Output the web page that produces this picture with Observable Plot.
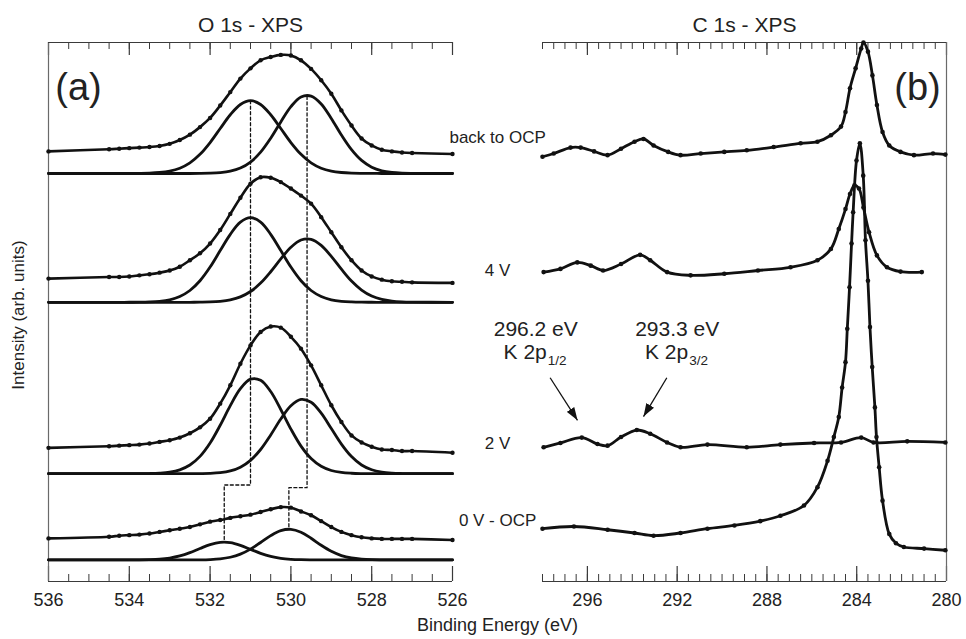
<!DOCTYPE html>
<html>
<head>
<meta charset="utf-8">
<script src="https://cdn.jsdelivr.net/npm/d3@7"></script>
<script src="https://cdn.jsdelivr.net/npm/@observablehq/plot@0.6"></script>
<style>
  html, body { margin: 0; padding: 0; background: #fff; }
  #chart { position: relative; width: 966px; height: 639px; overflow: hidden; background: #fff; }
  #chart > svg { position: absolute; left: 0; top: 0; overflow: visible; }
</style>
</head>
<body>
<div id="chart"></div>
<script>
// ================= DATA =================
// Common intensity scale (arbitrary units)
const yDomain = [0, 100];

// ---- Panel (a): O 1s XPS ----
const oEnergy = [536, 534.5, 534.25, 534, 533.75, 533.5, 533.25, 533, 532.75, 532.5, 532.25, 532,
  531.75, 531.5, 531.25, 531, 530.75, 530.5, 530.25, 530, 529.75, 529.5, 529.25, 529, 528.75,
  528.5, 528.25, 528, 527.75, 527.5, 527.25, 527, 526];
const oSeries = ["back to OCP", "4 V", "2 V", "0 V - OCP"];
const oBaseline = [75.7, 51.8, 20.0, 4.0];   // vertical stacking offsets

// measured spectra (intensity above the fit baseline)
const oDataBack = [4.1, 4.5, 4.6, 4.7, 4.8, 4.9, 5.1, 5.5, 6.2, 7.2, 8.6, 10.3, 12.6, 15.1, 17.6, 19.5, 21.0, 21.6, 22.0, 21.9, 21.0, 19.4, 17.3, 14.8, 11.7, 8.9, 6.5, 5.2, 4.4, 4.1, 3.9, 3.8, 3.6];
const oData4V   = [4.4, 4.7, 4.7, 4.8, 5.0, 5.2, 5.5, 5.9, 6.6, 7.8, 9.1, 10.9, 13.4, 16.4, 19.4, 22.0, 23.2, 23.1, 22.3, 21.1, 19.8, 18.3, 15.8, 13.0, 10.2, 7.8, 5.9, 4.8, 4.2, 3.9, 3.8, 3.7, 3.6];
const oData2V   = [4.8, 5.1, 5.2, 5.3, 5.4, 5.6, 5.9, 6.2, 6.7, 7.5, 8.6, 10.2, 13.0, 16.4, 20.4, 23.8, 26.3, 27.3, 27.1, 25.4, 23.2, 20.1, 16.4, 12.7, 9.6, 7.1, 5.8, 5.0, 4.5, 4.4, 4.2, 4.2, 3.9];
const oData0V   = [4.0, 4.3, 4.5, 4.6, 4.7, 4.9, 5.2, 5.5, 5.8, 6.1, 6.6, 7.1, 7.4, 7.8, 8.1, 8.4, 8.9, 9.4, 9.8, 9.7, 9.0, 8.3, 7.2, 6.1, 5.2, 4.6, 4.2, 4.0, 3.9, 3.9, 3.9, 3.9, 3.7];

// fitted components (intensity above the fit baseline)
const oFitBack1 = [0, 0, 0, 0.01, 0.02, 0.06, 0.18, 0.44, 0.98, 1.97, 3.55, 5.74, 8.34, 10.9, 12.8, 13.5, 12.8, 10.9, 8.34, 5.74, 3.55, 1.97, 0.98, 0.44, 0.18, 0.06, 0.02, 0.01, 0, 0, 0, 0, 0];
const oFitBack2 = [0, 0, 0, 0, 0, 0, 0, 0, 0, 0, 0.01, 0.05, 0.16, 0.42, 1.0, 2.11, 3.95, 6.54, 9.57, 12.4, 14.2, 14.36, 12.9, 10.2, 7.13, 4.42, 2.42, 1.17, 0.5, 0.19, 0.06, 0.02, 0];
const oFit4V1   = [0, 0, 0, 0.01, 0.02, 0.07, 0.19, 0.47, 1.08, 2.19, 4.0, 6.54, 9.59, 12.61, 14.87, 15.7, 14.87, 12.61, 9.59, 6.54, 4.0, 2.19, 1.08, 0.47, 0.19, 0.07, 0.02, 0.01, 0, 0, 0, 0, 0];
const oFit4V2   = [0, 0, 0, 0, 0, 0, 0, 0, 0, 0, 0.02, 0.06, 0.18, 0.45, 1.0, 2.0, 3.56, 5.67, 8.05, 10.21, 11.56, 11.69, 10.56, 8.52, 6.14, 3.94, 2.27, 1.16, 0.53, 0.22, 0.08, 0.03, 0];
const oFit2V1   = [0, 0, 0, 0, 0.01, 0.03, 0.1, 0.28, 0.72, 1.61, 3.21, 5.69, 8.99, 12.63, 15.78, 17.54, 17.33, 15.24, 11.91, 8.28, 5.12, 2.82, 1.38, 0.6, 0.23, 0.08, 0.02, 0, 0, 0, 0, 0, 0];
const oFit2V2   = [0, 0, 0, 0, 0, 0, 0, 0, 0, 0, 0.02, 0.06, 0.19, 0.51, 1.2, 2.47, 4.49, 7.19, 10.14, 12.59, 13.77, 13.25, 11.23, 8.38, 5.5, 3.18, 1.62, 0.73, 0.29, 0.1, 0.03, 0.01, 0];
const oFit0V1   = [0, 0, 0, 0, 0.01, 0.05, 0.14, 0.35, 0.74, 1.35, 2.12, 2.84, 3.26, 3.21, 2.71, 1.96, 1.22, 0.65, 0.3, 0.12, 0.04, 0.01, 0, 0, 0, 0, 0, 0, 0, 0, 0, 0, 0];
const oFit0V2   = [0, 0, 0, 0, 0, 0, 0, 0, 0, 0.01, 0.02, 0.07, 0.2, 0.5, 1.08, 2.01, 3.24, 4.51, 5.44, 5.68, 5.14, 4.02, 2.72, 1.6, 0.81, 0.36, 0.14, 0.04, 0.01, 0, 0, 0, 0];

// dashed peak-position guides
const guide1E = [531.0, 531.0, 531.65, 531.65];
const guide1I = [89.2, 17.9, 17.9, 7.3];
const guide2E = [529.6, 529.6, 530.05, 530.05];
const guide2I = [90.0, 17.4, 17.4, 9.7];

const oMajorTicks = [536, 534, 532, 530, 528, 526];

// ---- Panel (b): C 1s XPS ----
const cBackE = [298.0, 297.5, 296.75, 296.3, 295.7, 295.1, 294.5, 293.9, 293.5, 293.05, 292.4, 291.85, 290.95, 289.9, 288.9, 287.7, 286.5, 285.75, 285.15, 284.7, 284.5, 284.3, 284.05, 283.8, 283.7, 283.5, 283.3, 283.1, 282.85, 282.55, 282.05, 281.45, 280.6, 280.05];
const cBackI = [78.8, 79.4, 80.5, 80.5, 79.8, 79.1, 80.3, 81.6, 82.1, 80.9, 79.7, 79.1, 79.4, 79.7, 80.0, 80.6, 81.3, 81.6, 82.8, 84.4, 87.1, 91.5, 95.2, 98.9, 100, 98.3, 93.9, 88.4, 83.4, 80.9, 79.7, 79.1, 79.4, 79.2];
const c4VE = [297.95, 297.2, 296.45, 295.85, 295.3, 294.5, 293.65, 293.2, 292.45, 291.4, 289.9, 288.4, 286.95, 285.75, 285.15, 284.8, 284.5, 284.3, 284.1, 283.9, 283.7, 283.45, 283.1, 282.65, 282.05, 281.1];
const c4VI = [57.4, 58.0, 59.2, 58.6, 57.7, 58.9, 60.6, 59.6, 57.4, 56.8, 57.1, 57.7, 58.3, 59.6, 61.7, 65.4, 69.1, 71.9, 73.5, 72.9, 69.4, 64.8, 60.5, 58.3, 57.5, 57.4];
const c2VE = [297.95, 297.2, 296.25, 295.55, 295.1, 294.5, 293.8, 293.2, 292.45, 291.85, 290.65, 288.9, 287.4, 285.9, 284.7, 283.8, 283.25, 281.75, 280.05];
const c2VI = [24.9, 25.7, 26.7, 25.5, 25.2, 26.8, 28.1, 27.4, 25.8, 24.9, 25.4, 24.9, 25.4, 25.7, 25.8, 26.7, 25.8, 26.0, 25.8];
const c0VE = [298.0, 296.6, 295.1, 293.9, 293.05, 291.85, 290.65, 289.45, 288.3, 287.4, 286.35, 285.75, 285.3, 285.02, 284.8, 284.65, 284.5, 284.42, 284.32, 284.23, 284.16, 284.01, 283.86, 283.71, 283.61, 283.5, 283.41, 283.31, 283.19, 283.12, 283.0, 282.85, 282.55, 282.25, 281.9, 281.0, 280.05];
const c0VI = [9.8, 10.2, 9.6, 9.0, 8.5, 9.0, 9.8, 10.4, 11.2, 12.2, 14.1, 17.5, 22.4, 26.8, 30.5, 36.0, 40.7, 46.9, 54.6, 62.7, 68.5, 78.1, 81.3, 75.3, 63.3, 55.8, 47.2, 39.8, 32.3, 26.8, 21.2, 15.0, 8.8, 7.1, 6.4, 6.1, 5.8];

const cMajorTicks = [296, 292, 288, 284, 280];

// series labels (placed between the panels) and K 2p annotations
const labelE = 300;
const labelI = [82.4, 57.7, 25.6, 11.3];
const annE = [298.3, 292.0];
const annEnergy = ["296.2 eV", "293.3 eV"];
const annSub = ["1/2", "3/2"];
const annI1 = 46.8, annI2 = 42.5;
const arrowFromE = [297.66, 292.46], arrowFromI = [37.8, 37.8];
const arrowToE = [296.44, 293.5], arrowToI = [29.9, 30.6];

// ================= LAYOUT =================
const W = 966, H = 639, MT = 42, MB = 58;
const FH = H - MT - MB;
const FONT = '"Liberation Sans", Arial, Helvetica, sans-serif';
const INK = "#111";
const AX = "#3a3a3a";

// ---- build rows ----
const oData = [oDataBack, oData4V, oData2V, oData0V];
const oFits = [[oFitBack1, oFitBack2], [oFit4V1, oFit4V2], [oFit2V1, oFit2V2], [oFit0V1, oFit0V2]];
const oDataRows = oSeries.flatMap((s, k) => oEnergy.map((e, i) => ({E: e, I: oBaseline[k] + oData[k][i], key: s})));
const oFitRows = oSeries.flatMap((s, k) => oFits[k].flatMap((arr, j) => oEnergy.map((e, i) => ({E: e, I: oBaseline[k] + arr[i], key: s + "-" + j}))));
const guideRows = [guide1E.map((e, i) => ({E: e, I: guide1I[i], key: 1})), guide2E.map((e, i) => ({E: e, I: guide2I[i], key: 2}))].flat();

const cSets = [[cBackE, cBackI], [c4VE, c4VI], [c2VE, c2VI], [c0VE, c0VI]];
const cRows = oSeries.flatMap((s, k) => cSets[k][0].map((e, i) => ({E: e, I: cSets[k][1][i], key: s})));
const labelRows = oSeries.map((s, k) => ({text: s, E: labelE, I: labelI[k]}));
const annRows = annE.map((e, k) => ({E: e, t: annEnergy[k], sub: annSub[k]}));
const arrowRows = arrowFromE.map((e, k) => ({x1: e, y1: arrowFromI[k], x2: arrowToE[k], y2: arrowToI[k]}));

const oMinor = d3.range(526, 536.001, 0.5);
const cMinor = d3.range(280, 298.001, 0.5);

function filledHead(color, context) {
  const ns = "http://www.w3.org/2000/svg";
  const doc = (context && context.document) || document;
  const m = doc.createElementNS(ns, "marker");
  m.setAttribute("viewBox", "-13 -5 13 10");
  m.setAttribute("markerWidth", "13");
  m.setAttribute("markerHeight", "10");
  m.setAttribute("markerUnits", "userSpaceOnUse");
  m.setAttribute("orient", "auto");
  const p = doc.createElementNS(ns, "path");
  p.setAttribute("d", "M-13,-4.5L0,0L-13,4.5Z");
  p.setAttribute("fill", color);
  p.setAttribute("stroke", "none");
  m.appendChild(p);
  return m;
}
function arrowMark() {
  const opts = {x1: "x1", y1: "y1", x2: "x2", y2: "y2", stroke: INK, strokeWidth: 1.3};
  try { return Plot.link(arrowRows, {...opts, markerEnd: filledHead}); }
  catch (e) { return Plot.arrow(arrowRows, {...opts, headLength: 12, headAngle: 40}); }
}

function frameMarks(major, minor, xEdge) {
  return [
    Plot.ruleX(minor, {insetTop: FH - 7, stroke: AX, strokeWidth: 1}),
    Plot.ruleX(major, {insetTop: FH - 15, stroke: AX, strokeWidth: 1.2}),
    Plot.ruleX(minor, {insetBottom: FH - 7, stroke: AX, strokeWidth: 1}),
    Plot.ruleX(major, {insetBottom: FH - 13, stroke: AX, strokeWidth: 1.2}),
    Plot.ruleX([xEdge], {stroke: "#6a6a6a", strokeWidth: 1.2}),
    Plot.ruleY(yDomain, {stroke: AX, strokeWidth: 1.2}),
    Plot.axisX(major, {tickSize: 0, tickPadding: 12, fontSize: 18, label: null, fill: "#222", tickFormat: d => String(d)})
  ];
}

const common = {
  width: W, height: H, marginTop: MT, marginBottom: MB,
  y: {domain: yDomain, axis: null},
  style: {fontFamily: FONT, background: "transparent", overflow: "visible"}
};

// ---- Panel (a) ----
const plotA = Plot.plot({
  ...common,
  marginLeft: 48, marginRight: W - 452,
  x: {domain: [536, 526]},
  marks: [
    ...frameMarks(oMajorTicks, oMinor, 536),
    Plot.line(guideRows, {x: "E", y: "I", z: "key", stroke: INK, strokeWidth: 1.3, strokeDasharray: "3,2.5"}),
    Plot.line(oFitRows, {x: "E", y: "I", z: "key", curve: "catmull-rom", stroke: INK, strokeWidth: 2.8}),
    Plot.line(oDataRows, {x: "E", y: "I", z: "key", curve: "catmull-rom", stroke: INK, strokeWidth: 2.6}),
    Plot.dot(oDataRows, {x: "E", y: "I", r: 2.2, fill: INK, stroke: "none"}),
    Plot.text(["O 1s - XPS"], {text: d => d, frameAnchor: "top", dy: -17, fontSize: 21, lineAnchor: "middle", fill: "#222"}),
    Plot.text(["(a)"], {text: d => d, frameAnchor: "top-left", dx: 30, dy: 45, fontSize: 38, textAnchor: "middle", lineAnchor: "middle", fill: "#222"}),
    Plot.text(["Intensity (arb. units)"], {text: d => d, frameAnchor: "left", dx: -30, dy: 3, rotate: -90, fontSize: 17, textAnchor: "middle", lineAnchor: "middle", fill: "#222"})
  ]
});

// ---- Panel (b) ----
const plotB = Plot.plot({
  ...common,
  marginLeft: 542, marginRight: W - 946,
  x: {domain: [298, 280]},
  marks: [
    ...frameMarks(cMajorTicks, cMinor, 280),
    Plot.line(cRows, {x: "E", y: "I", z: "key", curve: "catmull-rom", stroke: INK, strokeWidth: 2.8}),
    Plot.dot(cRows, {x: "E", y: "I", r: 2.3, fill: INK, stroke: "none"}),
    Plot.text(labelRows, {x: "E", y: "I", text: "text", fontSize: 17, textAnchor: "middle", lineAnchor: "middle", fill: "#222"}),
    Plot.text(annRows, {x: "E", y: () => annI1, text: "t", fontSize: 21, textAnchor: "middle", lineAnchor: "middle", fill: "#222"}),
    Plot.text(annRows, {x: "E", y: () => annI2, text: () => "K 2p", dx: 11, fontSize: 21, textAnchor: "end", lineAnchor: "middle", fill: "#222"}),
    Plot.text(annRows, {x: "E", y: () => annI2, text: "sub", dx: 12, dy: 8, fontSize: 13.5, textAnchor: "start", lineAnchor: "middle", fill: "#222"}),
    arrowMark(),
    Plot.text(["C 1s - XPS"], {text: d => d, frameAnchor: "top", dy: -17, fontSize: 21, lineAnchor: "middle", fill: "#222"}),
    Plot.text(["(b)"], {text: d => d, frameAnchor: "top-right", dx: -29, dy: 45, fontSize: 38, textAnchor: "middle", lineAnchor: "middle", fill: "#222"}),
    Plot.text(["Binding Energy (eV)"], {text: d => d, frameAnchor: "bottom-left", dx: -45, dy: 44, fontSize: 18, textAnchor: "middle", lineAnchor: "middle", fill: "#222"})
  ]
});

const chart = document.getElementById("chart");
chart.appendChild(plotA);
chart.appendChild(plotB);
</script>
</body>
</html>
